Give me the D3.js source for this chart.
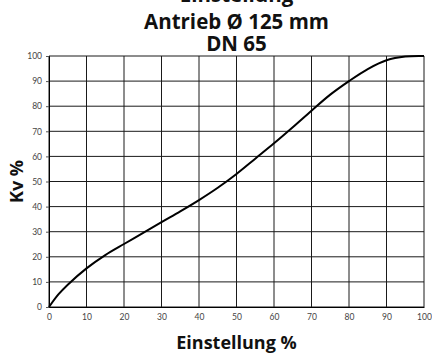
<!DOCTYPE html>
<html>
<head>
<meta charset="utf-8">
<script src="https://cdn.jsdelivr.net/npm/d3@7"></script>
<style>
  html, body { margin: 0; padding: 0; background: #fff; }
  svg { display: block; }
</style>
</head>
<body>
<svg id="chart" width="432" height="354"></svg>
<script>
// Valve characteristic: flow coefficient vs. setting
const titleLines = ["Einstellung", "Antrieb Ø 125 mm", "DN 65"];
const xLabel = "Einstellung %";
const yLabel = "Kv %";
const xTicks = [0, 10, 20, 30, 40, 50, 60, 70, 80, 90, 100];
const yTicks = [0, 10, 20, 30, 40, 50, 60, 70, 80, 90, 100];
const setting = [0, 2.5, 5, 10, 15, 20, 25, 30, 35, 40, 45, 50, 55, 60, 65, 70, 75, 80, 85, 90, 95, 100];
const kv      = [0, 5.0, 8.9, 15.4, 20.7, 25.1, 29.4, 33.8, 38.1, 42.6, 47.5, 53.0, 59.1, 65.2, 71.6, 78.2, 84.6, 90.0, 94.8, 98.3, 99.8, 100];

const svg = d3.select("#chart");
const margin = { left: 49, right: 8, top: 56, bottom: 47 };
const W = 432, H = 354;

const x = d3.scaleLinear().domain([0, 100]).range([margin.left, W - margin.right]);
const y = d3.scaleLinear().domain([0, 100]).range([H - margin.bottom, margin.top]);

const gridColor = "#1a1a1a";
const grid = svg.append("g");
// vertical grid lines
grid.selectAll("line.v").data(xTicks).join("line")
  .attr("class", "v")
  .attr("x1", d => x(d)).attr("x2", d => x(d))
  .attr("y1", y(0)).attr("y2", y(100))
  .attr("stroke", gridColor).attr("stroke-width", 1);
// horizontal grid lines
grid.selectAll("line.h").data(yTicks).join("line")
  .attr("class", "h")
  .attr("x1", x(0)).attr("x2", x(100))
  .attr("y1", d => y(d)).attr("y2", d => y(d))
  .attr("stroke", gridColor).attr("stroke-width", 1);

// axes
const tickFont = "Lato, 'Open Sans', sans-serif";
const yAxis = svg.append("g")
  .attr("transform", `translate(${x(0)},0)`)
  .call(d3.axisLeft(y).tickValues(yTicks).tickSize(3).tickPadding(4));
yAxis.select(".domain").attr("stroke", "#000");
yAxis.selectAll(".tick line").attr("stroke", "#555");
yAxis.selectAll("text").attr("font-family", tickFont).attr("font-size", 8.5).attr("fill", "#444");

const xAxis = svg.append("g")
  .attr("transform", `translate(0,${y(0)})`)
  .call(d3.axisBottom(x).tickValues(xTicks).tickSize(0).tickPadding(7));
xAxis.select(".domain").attr("stroke", "#000");
xAxis.selectAll("text").attr("font-family", tickFont).attr("font-size", 8.5).attr("fill", "#444");

// curve
const line = d3.line()
  .x((d, i) => x(setting[i]))
  .y(d => y(d))
  .curve(d3.curveCatmullRom.alpha(0.5));
svg.append("path")
  .datum(kv)
  .attr("d", line)
  .attr("fill", "none")
  .attr("stroke", "#000")
  .attr("stroke-width", 2);

// titles (the first line sits at the very top edge)
const cx = (x(0) + x(100)) / 2;
const titleFont = "'Open Sans', 'Noto Sans', sans-serif";
const titleY = [2, 29, 51];
svg.selectAll("text.title").data(titleLines).join("text")
  .attr("class", "title")
  .attr("x", cx)
  .attr("y", (d, i) => titleY[i])
  .attr("text-anchor", "middle")
  .attr("font-family", titleFont)
  .attr("font-weight", 700)
  .attr("font-size", 20.5)
  .attr("fill", "#111")
  .text(d => d);

svg.append("text")
  .attr("x", cx)
  .attr("y", 349)
  .attr("text-anchor", "middle")
  .attr("font-family", titleFont)
  .attr("font-weight", 700)
  .attr("font-size", 18)
  .attr("fill", "#111")
  .text(xLabel);

svg.append("text")
  .attr("transform", `translate(23,${(y(0) + y(100)) / 2}) rotate(-90)`)
  .attr("text-anchor", "middle")
  .attr("font-family", titleFont)
  .attr("font-weight", 700)
  .attr("font-size", 18)
  .attr("fill", "#111")
  .text(yLabel);
</script>
</body>
</html>
